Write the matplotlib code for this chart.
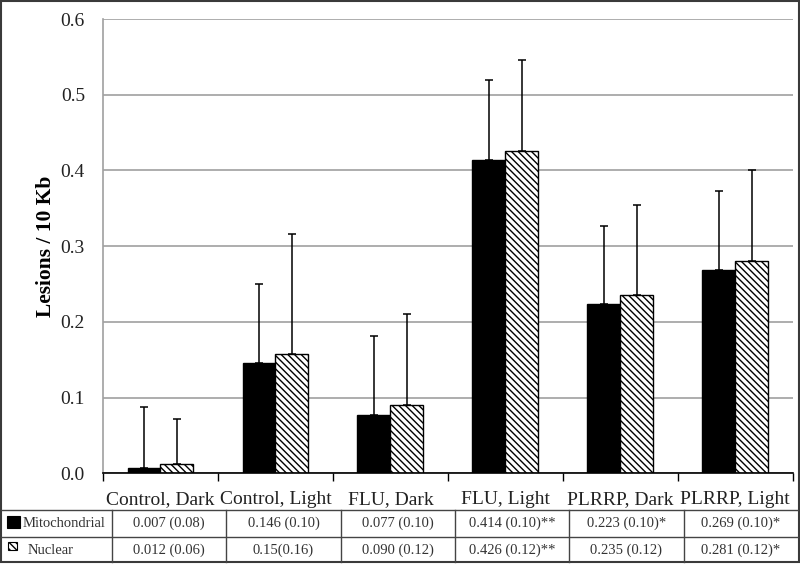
import numpy as np
import matplotlib
matplotlib.use("Agg")
import matplotlib.pyplot as plt
from matplotlib.lines import Line2D
from matplotlib.patches import Rectangle

plt.rcParams['font.family'] = ['Liberation Serif', 'DejaVu Serif']
plt.rcParams['hatch.linewidth'] = 1.0

categories = ["Control, Dark", "Control, Light", "FLU, Dark", "FLU, Light", "PLRRP, Dark", "PLRRP, Light"]
mito = [0.007, 0.146, 0.077, 0.414, 0.223, 0.269]
mito_err = [0.080, 0.104, 0.104, 0.105, 0.103, 0.104]
nuclear = [0.012, 0.158, 0.090, 0.426, 0.235, 0.281]
nuclear_err = [0.060, 0.158, 0.120, 0.120, 0.120, 0.120]
series_names = ["Mitochondrial", "Nuclear"]
mito_text = ["0.007 (0.08)", "0.146 (0.10)", "0.077 (0.10)", "0.414 (0.10)**", "0.223 (0.10)*", "0.269 (0.10)*"]
nuclear_text = ["0.012 (0.06)", "0.15(0.16)", "0.090 (0.12)", "0.426 (0.12)**", "0.235 (0.12)", "0.281 (0.12)*"]
yticks = [0.0, 0.1, 0.2, 0.3, 0.4, 0.5, 0.6]

W, H = 800, 564
fig = plt.figure(figsize=(8, 5.64), dpi=100)
ax = fig.add_axes([103 / W, 1 - 473.3 / H, 689.7 / W, (473.3 - 19) / H])

x = np.arange(len(categories))
bw = 0.286
ax.bar(x - bw / 2, mito, bw, color='black', edgecolor='black', linewidth=1.0, zorder=2)
ax.bar(x + bw / 2, nuclear, bw, color='white', edgecolor='black', hatch='\\\\\\\\\\', linewidth=1.0, zorder=2)
ax.errorbar(x - bw / 2, mito, yerr=[np.zeros(len(x)), mito_err], fmt='none', ecolor='black',
            elinewidth=1.1, capsize=3, capthick=1.1, zorder=3)
ax.errorbar(x + bw / 2, nuclear, yerr=[np.zeros(len(x)), nuclear_err], fmt='none', ecolor='black',
            elinewidth=1.1, capsize=3, capthick=1.1, zorder=3)

ax.set_xlim(-0.5, len(categories) - 0.5)
ax.set_ylim(0, 0.6)
ax.set_yticks(yticks)
ax.set_yticklabels([f"{v:.1f}" for v in yticks], fontsize=14, color='#222222')
ax.yaxis.grid(True, color='#a0a0a0', linewidth=1.2, zorder=0)
ax.set_axisbelow(True)
ax.tick_params(axis='y', length=0, pad=13)

ax.set_xticks(np.arange(-0.5, len(categories), 1.0))
ax.set_xticklabels([])
ax.set_xticks(x, minor=True)
ax.set_xticklabels(categories, minor=True, fontsize=14, color='#222222')
ax.tick_params(axis='x', which='major', length=6, width=1.0, direction='out', color='black')
ax.tick_params(axis='x', which='minor', length=0, pad=12.5)

for s in ['top', 'right']:
    ax.spines[s].set_visible(False)
ax.spines['left'].set_color('#a0a0a0')
ax.spines['left'].set_linewidth(1.2)
ax.spines['bottom'].set_color('black')
ax.spines['bottom'].set_linewidth(1.2)

ax.set_ylabel("Lesions / 10 Kb", fontsize=15.5, fontweight='bold', labelpad=3)

# ---- data table below ----
def fx(px):
    return px / W

def fy(py):
    return 1 - py / H

lc = '#444444'
col_edges = [112 + 114.33 * i for i in range(len(categories) + 1)]
row_edges = [510, 537, 562]
for yy in row_edges[:2]:
    fig.add_artist(Line2D([fx(1), fx(798)], [fy(yy), fy(yy)], color=lc, linewidth=1.0))
for xx in col_edges[:-1]:
    fig.add_artist(Line2D([fx(xx), fx(xx)], [fy(510), fy(562)], color=lc, linewidth=1.0))

row_texts = [mito_text, nuclear_text]
row_centers = [523.5, 550]
for r in range(2):
    for c in range(len(categories)):
        cx = (col_edges[c] + col_edges[c + 1]) / 2
        fig.text(fx(cx), fy(row_centers[r]), row_texts[r][c], ha='center', va='center',
                 fontsize=10.5, color='#333333')

# row labels with legend keys
fig.add_artist(Rectangle((fx(7), fy(528)), 13 / W, 12 / H, transform=fig.transFigure,
                         facecolor='black', edgecolor='black', linewidth=0.8))
fig.text(fx(23), fy(523.5), series_names[0], ha='left', va='center', fontsize=10.5, color='#333333')
fig.add_artist(Rectangle((fx(8), fy(550)), 9 / W, 8 / H, transform=fig.transFigure,
                         facecolor='white', edgecolor='black', hatch='\\\\\\\\\\', linewidth=0.8))
fig.text(fx(28), fy(550), series_names[1], ha='left', va='center', fontsize=10.5, color='#333333')

# outer frame
fig.add_artist(Rectangle((fx(1), fy(562)), 797.5 / W, 561 / H, transform=fig.transFigure,
                         facecolor='none', edgecolor='#3a3a3a', linewidth=1.5))

fig.savefig("out.png", dpi=100)
